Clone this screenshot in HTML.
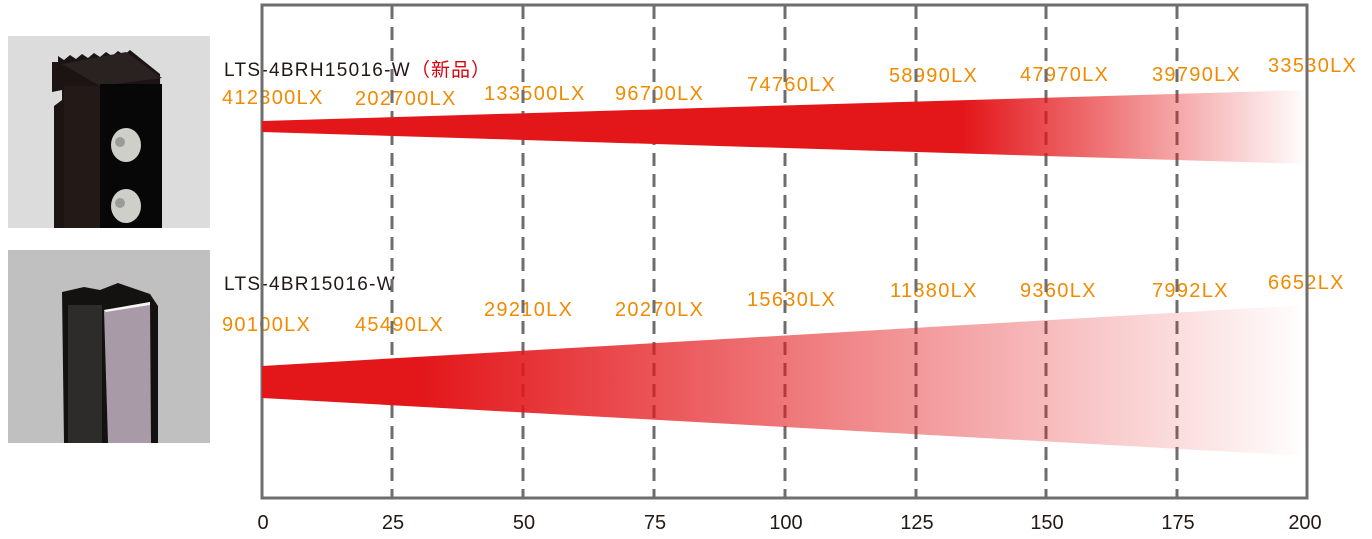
<!DOCTYPE html>
<html><head><meta charset="utf-8"><style>
html,body{margin:0;padding:0;background:#fff;}
svg{display:block;}
text{font-family:"Liberation Sans","Noto Sans CJK SC",sans-serif;}
.o{fill:#f08a00;font-size:20px;letter-spacing:1.3px;}
.k{fill:#231815;font-size:19px;letter-spacing:1.3px;}
.t{fill:#231815;font-size:20px;text-anchor:middle;}
</style></head><body>
<svg width="1372" height="539" viewBox="0 0 1372 539" xmlns="http://www.w3.org/2000/svg">
<defs>
<linearGradient id="g1" gradientUnits="userSpaceOnUse" x1="261" y1="0" x2="1308" y2="0">
<stop offset="0" stop-color="#e3161a"/><stop offset="0.67" stop-color="#e3161a"/><stop offset="1" stop-color="#e3161a" stop-opacity="0"/>
</linearGradient>
<linearGradient id="g2" gradientUnits="userSpaceOnUse" x1="261" y1="0" x2="1308" y2="0">
<stop offset="0" stop-color="#e3161a"/><stop offset="0.15" stop-color="#e3161a"/><stop offset="1" stop-color="#e3161a" stop-opacity="0"/>
</linearGradient>
</defs>
<!-- product image 1 -->
<rect x="8" y="36" width="202" height="192" fill="#dcdcdc"/>
<polygon points="52,62 58,62 58,56 64,60 70,55 76,59 82,54 88,58 94,53 100,57 106,52 112,56 118,51 124,55 130,50 160,74 162,228 54,228 54,106 62,100 62,90 52,92" fill="#1c1412"/>
<polygon points="62,64 126,52 162,78 100,86" fill="#2a2220"/>
<rect x="100" y="84" width="62" height="144" fill="#070707"/>
<rect x="64" y="86" width="36" height="142" fill="#231a18"/>
<ellipse cx="126" cy="145" rx="15" ry="17" fill="#cfcfca"/>
<circle cx="120" cy="142" r="5" fill="#9e9a98"/>
<ellipse cx="126" cy="206" rx="15" ry="17" fill="#cfcfca"/>
<circle cx="120" cy="203" r="5" fill="#9e9a98"/>
<!-- product image 2 -->
<rect x="8" y="250" width="202" height="193" fill="#c0c0c0"/>
<polygon points="62,292 84,287 100,290 118,283 150,294 158,306 158,443 64,443" fill="#141111"/>
<rect x="68" y="305" width="34" height="138" fill="#2e2b2b"/>
<polygon points="104,310 150,302 151,443 108,443" fill="#a89aa6"/>
<polygon points="104,310 150,302 150,305 106,312" fill="#f4f4f4"/>
<!-- text labels -->
<text class="k" x="224" y="76">LTS-4BRH15016-W<tspan fill="#d7000f" letter-spacing="1">（新品）</tspan></text>
<text class="k" x="224" y="290">LTS-4BR15016-W</text>
<g class="o">
<text x="222" y="104">412300LX</text>
<text x="355" y="105">202700LX</text>
<text x="484" y="100">133500LX</text>
<text x="615" y="100">96700LX</text>
<text x="747" y="91">74760LX</text>
<text x="889" y="82">58990LX</text>
<text x="1020" y="81">47970LX</text>
<text x="1152" y="81">39790LX</text>
<text x="1268" y="72">33530LX</text>
<text x="222" y="331">90100LX</text>
<text x="355" y="331">45490LX</text>
<text x="484" y="316">29210LX</text>
<text x="615" y="316">20270LX</text>
<text x="747" y="306">15630LX</text>
<text x="890" y="297">11880LX</text>
<text x="1020" y="297">9360LX</text>
<text x="1152" y="297">7992LX</text>
<text x="1268" y="289">6652LX</text>
</g>
<!-- grid -->
<g stroke="#6e6e6e" stroke-width="3" stroke-dasharray="13 8">
<line x1="392" y1="6" x2="392" y2="498"/>
<line x1="523" y1="6" x2="523" y2="498"/>
<line x1="654" y1="6" x2="654" y2="498"/>
<line x1="785" y1="6" x2="785" y2="498"/>
<line x1="916" y1="6" x2="916" y2="498"/>
<line x1="1046" y1="6" x2="1046" y2="498"/>
<line x1="1177" y1="6" x2="1177" y2="498"/>
</g>
<rect x="262" y="5" width="1045" height="493" fill="none" stroke="#6e6e6e" stroke-width="3"/>
<!-- beams -->
<polygon points="262,121 1308,90 1308,164 262,132" fill="url(#g1)"/>
<polygon points="262,366 1308,305 1308,456 262,398" fill="url(#g2)"/>
<!-- x ticks -->
<g class="t">
<text x="263" y="529">0</text>
<text x="393" y="529">25</text>
<text x="524" y="529">50</text>
<text x="655" y="529">75</text>
<text x="786" y="529">100</text>
<text x="917" y="529">125</text>
<text x="1047" y="529">150</text>
<text x="1178" y="529">175</text>
<text x="1305" y="529">200</text>
</g>
</svg>
</body></html>
